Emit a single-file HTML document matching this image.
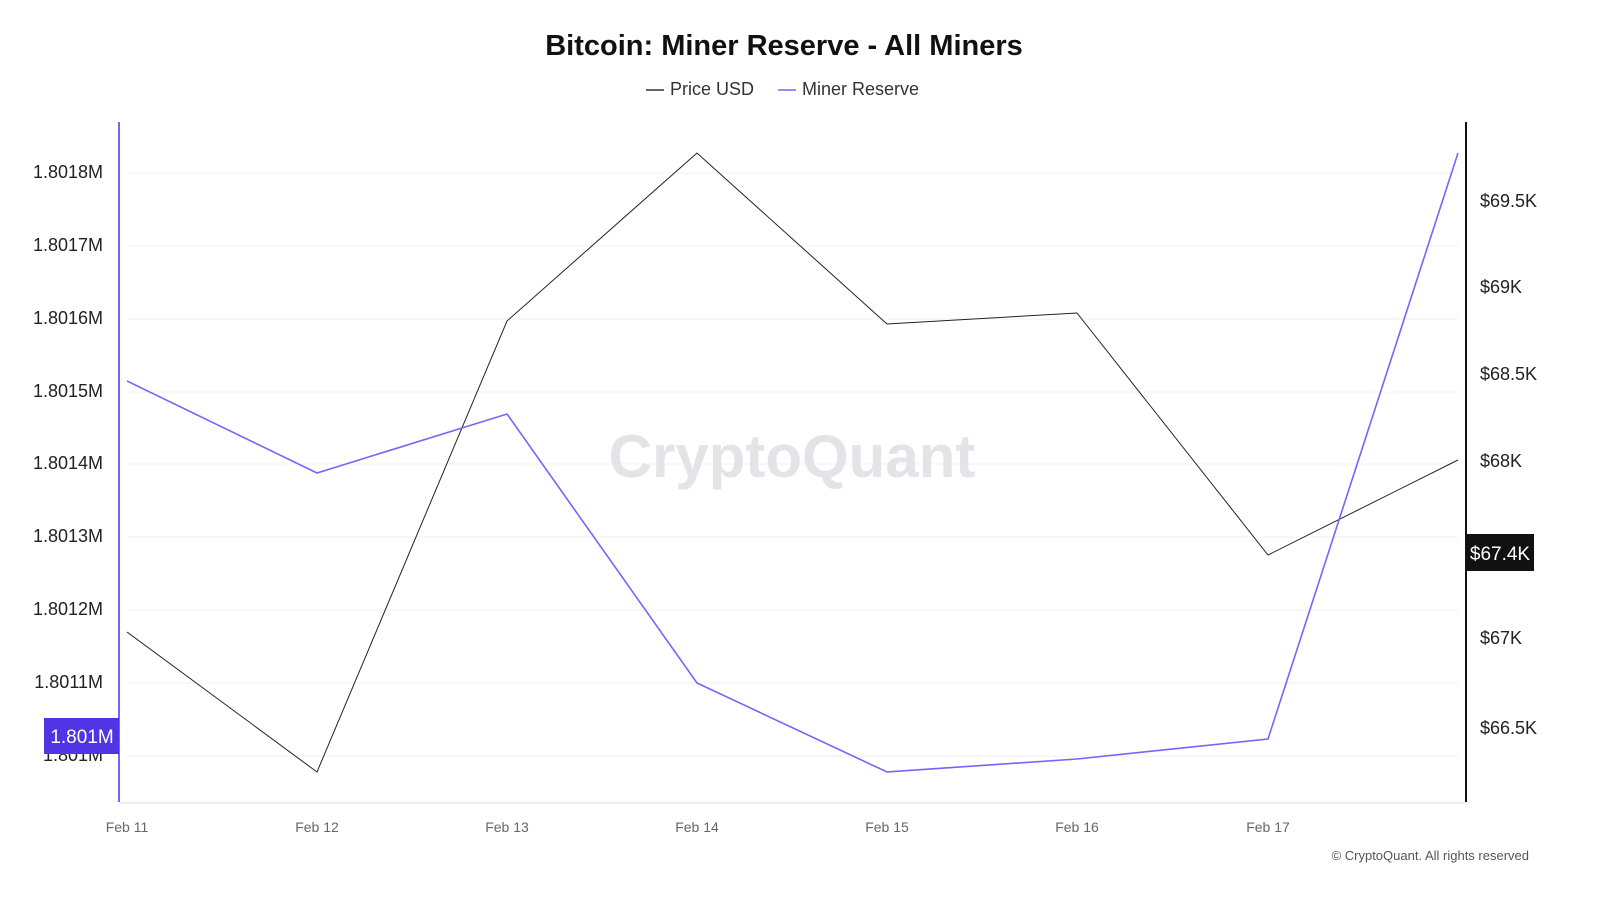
<!DOCTYPE html>
<html><head><meta charset="utf-8"><style>
body{margin:0;background:#fff;}
svg{display:block;font-family:"Liberation Sans",sans-serif;}
</style></head><body>
<svg width="1600" height="900" viewBox="0 0 1600 900">
<rect width="1600" height="900" fill="#fff"/>
<text x="784" y="55" text-anchor="middle" font-size="29" font-weight="bold" fill="#111">Bitcoin: Miner Reserve - All Miners</text>
<line x1="646" y1="90" x2="664" y2="90" stroke="#333" stroke-width="1.5"/>
<text x="670" y="95" font-size="18" fill="#333">Price USD</text>
<line x1="778" y1="90" x2="796" y2="90" stroke="#7b61ff" stroke-width="1.5"/>
<text x="802" y="95" font-size="18" fill="#333">Miner Reserve</text>
<g stroke="#f0f0f0" stroke-width="1">
<line x1="128" x2="1458" y1="173" y2="173"/><line x1="128" x2="1458" y1="246" y2="246"/>
<line x1="128" x2="1458" y1="319" y2="319"/><line x1="128" x2="1458" y1="392" y2="392"/>
<line x1="128" x2="1458" y1="464" y2="464"/><line x1="128" x2="1458" y1="537" y2="537"/>
<line x1="128" x2="1458" y1="610" y2="610"/><line x1="128" x2="1458" y1="683" y2="683"/>
<line x1="128" x2="1458" y1="756" y2="756"/>
</g>
<text x="792" y="477" text-anchor="middle" font-size="60" fill="#e3e3e8" font-weight="bold">CryptoQuant</text>
<g font-size="18" fill="#222" text-anchor="end">
<text x="103" y="178">1.8018M</text><text x="103" y="251">1.8017M</text>
<text x="103" y="324">1.8016M</text><text x="103" y="397">1.8015M</text>
<text x="103" y="469">1.8014M</text><text x="103" y="542">1.8013M</text>
<text x="103" y="615">1.8012M</text><text x="103" y="688">1.8011M</text>
<text x="103" y="761">1.801M</text>
</g>
<g font-size="18" fill="#222">
<text x="1480" y="207">$69.5K</text><text x="1480" y="293">$69K</text>
<text x="1480" y="380">$68.5K</text><text x="1480" y="467">$68K</text>
<text x="1480" y="644">$67K</text><text x="1480" y="734">$66.5K</text>
</g>
<g font-size="14" fill="#666" text-anchor="middle">
<text x="127" y="832">Feb 11</text><text x="317" y="832">Feb 12</text><text x="507" y="832">Feb 13</text>
<text x="697" y="832">Feb 14</text><text x="887" y="832">Feb 15</text><text x="1077" y="832">Feb 16</text>
<text x="1268" y="832">Feb 17</text>
</g>
<line x1="119" y1="803" x2="1466" y2="803" stroke="#ddd"/>
<line x1="119" y1="122" x2="119" y2="802" stroke="#7b61ff" stroke-width="2"/>
<line x1="1466" y1="122" x2="1466" y2="802" stroke="#111" stroke-width="2"/>
<polyline fill="none" stroke="#222" stroke-width="1" points="127,632 317,772 507,321 697,153 887,324 1077,313 1268,555 1458,460"/>
<polyline fill="none" stroke="#7b61ff" stroke-width="1.6" points="127,381 317,473 507,414 697,683 887,772 1077,759 1268,739 1458,153"/>
<rect x="44" y="718" width="75" height="36" fill="#4f35e6"/>
<text x="82" y="743" text-anchor="middle" font-size="19" fill="#fff">1.801M</text>
<rect x="1466" y="534" width="68" height="37" fill="#111"/>
<text x="1500" y="560" text-anchor="middle" font-size="19" fill="#fff">$67.4K</text>
<text x="1529" y="860" text-anchor="end" font-size="13" fill="#555">© CryptoQuant. All rights reserved</text>
</svg>
</body></html>
